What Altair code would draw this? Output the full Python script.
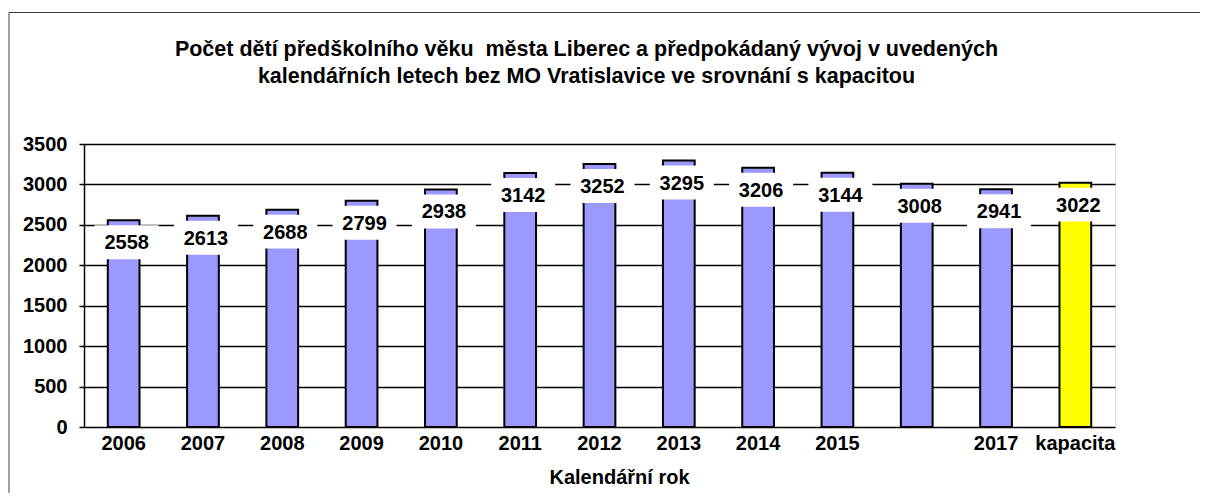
import altair as alt
import pandas as pd

categories = ["2006", "2007", "2008", "2009", "2010", "2011", "2012", "2013",
              "2014", "2015", "2016", "2017", "kapacita"]
values = [2558, 2613, 2688, 2799, 2938, 3142, 3252, 3295, 3206, 3144, 3008, 2941, 3022]
kinds = ["rok"] * 12 + ["kapacita"]
y_ticks = [0, 500, 1000, 1500, 2000, 2500, 3000, 3500]
hidden_labels = ["2016"]

title_lines = ["Počet dětí předškolního věku \u00a0města Liberec a předpokádaný vývoj v uvedených",
               "kalendářních letech bez MO Vratislavice ve srovnání s kapacitou"]
x_title = "Kalendářní rok"

df = pd.DataFrame({"kategorie": categories, "pocet": values, "druh": kinds})
FONT = "Liberation Sans"

W, H = 1031, 283

hidden_expr = " || ".join(f"datum.value == '{h}'" for h in hidden_labels)

x_enc = alt.X(
    "kategorie:N", sort=categories,
    scale=alt.Scale(paddingInner=0.6, paddingOuter=0.3),
    axis=alt.Axis(title=x_title, labelAngle=0, ticks=False, domain=False,
                  labelExpr=f"({hidden_expr}) ? '' : datum.label",
                  labelFont=FONT, labelFontSize=20, labelFontWeight="bold",
                  labelColor="black", labelPadding=6,
                  titleFont=FONT, titleFontSize=20, titleFontWeight="bold",
                  titleColor="black", titlePadding=14, titleX=535),
)
y_enc = alt.Y(
    "pocet:Q",
    scale=alt.Scale(domain=[0, 3500], nice=False),
    axis=alt.Axis(title=None, values=y_ticks, format="d", grid=True,
                  gridColor="black", gridWidth=1.5, domainColor="black",
                  domainWidth=1.5, tickColor="black", tickSize=5, tickWidth=1.5,
                  labelFont=FONT, labelFontSize=20, labelFontWeight="bold",
                  labelColor="black", labelPadding=12),
)

frame_df = pd.DataFrame({"a": [0]})
frame = alt.Chart(frame_df).mark_rect(
    fillOpacity=0, stroke="#404040", strokeWidth=1
).encode(
    x=alt.value(-75), x2=alt.value(W + 200),
    y=alt.value(-131.5), y2=alt.value(H + 200),
)

bars = alt.Chart(df).mark_bar(stroke="black", strokeWidth=2).encode(
    x=x_enc,
    y=y_enc,
    color=alt.Color("druh:N", scale=alt.Scale(domain=["rok", "kapacita"],
                                               range=["#9999FF", "#FFFF00"]),
                    legend=None),
)

boxes = alt.Chart(df).mark_point(
    shape="M-1,-0.53L1,-0.53L1,0.53L-1,0.53Z", size=4096, filled=True,
    fill="white", opacity=1, yOffset=22, xOffset=3,
).encode(x=alt.X("kategorie:N", sort=categories), y="pocet:Q")

labels = alt.Chart(df).mark_text(
    font=FONT, fontSize=20, fontWeight="bold", color="black",
    baseline="middle", yOffset=23, xOffset=3,
).encode(x=alt.X("kategorie:N", sort=categories), y="pocet:Q", text="pocet:Q")

chart = alt.layer(bars, boxes, labels, frame).properties(
    width=W, height=H,
    title=alt.TitleParams(title_lines, font=FONT, fontSize=21.5, fontWeight="bold",
                          color="black", anchor="middle", frame="group",
                          dx=-13, dy=75, offset=0, lineHeight=27),
    autosize=alt.AutoSizeParams(type="none"),
    padding={"left": 76, "top": 136, "right": 85, "bottom": 66},
).configure_view(
    fill="#C0C0C0", stroke="#808080", strokeWidth=2
).configure(background="white")

chart.save("out.html", embed_options={"renderer": "svg", "actions": False})
